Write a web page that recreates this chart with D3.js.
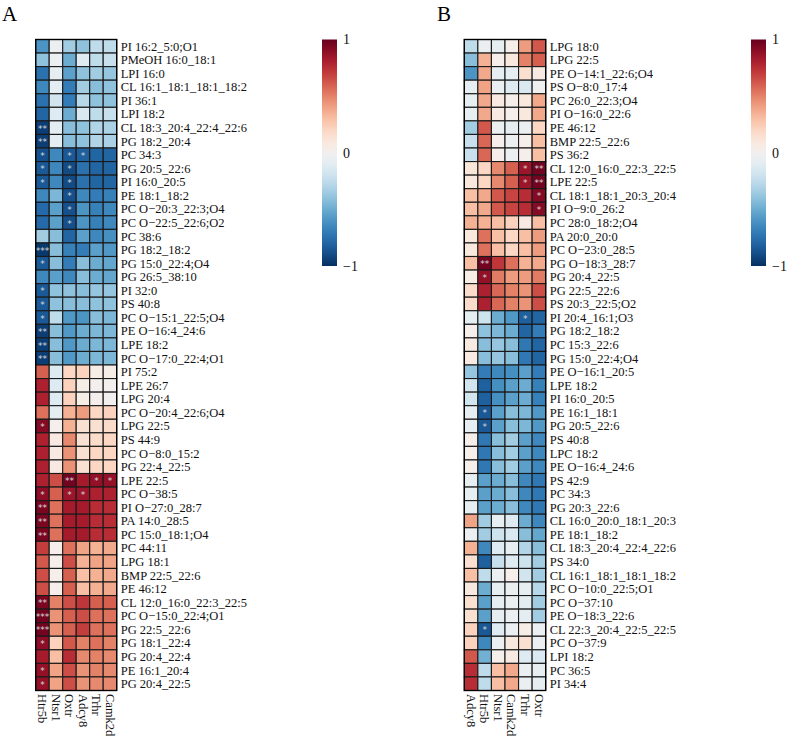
<!DOCTYPE html>
<html>
<head>
<meta charset="utf-8">
<script src="https://cdn.jsdelivr.net/npm/d3@7"></script>
<style>
  body { margin: 0; background: #fff; }
  svg text { font-family: "Liberation Serif", "Times New Roman", "DejaVu Serif", serif; }
</style>
</head>
<body>
<svg id="chart" width="789" height="738"></svg>
<script>
// panel A
var colsA = ["Htr5b", "Ntsr1", "Oxtr", "Adcy8", "Trhr", "Camk2d"];
var rowsA = [
  "PI 16:2_5:0;O1", "PMeOH 16:0_18:1", "LPI 16:0", "CL 16:1_18:1_18:1_18:2", "PI 36:1", "LPI 18:2",
  "CL 18:3_20:4_22:4_22:6", "PG 18:2_20:4", "PC 34:3", "PG 20:5_22:6", "PI 16:0_20:5", "PE 18:1_18:2",
  "PC O−20:3_22:3;O4", "PC O−22:5_22:6;O2", "PC 38:6", "PG 18:2_18:2", "PG 15:0_22:4;O4", "PG 26:5_38:10",
  "PI 32:0", "PS 40:8", "PC O−15:1_22:5;O4", "PE O−16:4_24:6", "LPE 18:2", "PC O−17:0_22:4;O1",
  "PI 75:2", "LPE 26:7", "LPG 20:4", "PC O−20:4_22:6;O4", "LPG 22:5", "PS 44:9",
  "PC O−8:0_15:2", "PG 22:4_22:5", "LPE 22:5", "PC O−38:5", "PI O−27:0_28:7", "PA 14:0_28:5",
  "PC 15:0_18:1;O4", "PC 44:11", "LPG 18:1", "BMP 22:5_22:6", "PE 46:12", "CL 12:0_16:0_22:3_22:5",
  "PC O−15:0_22:4;O1", "PG 22:5_22:6", "PG 18:1_22:4", "PG 20:4_22:4", "PE 16:1_20:4", "PG 20:4_22:5"
];
var valsA = [
  [-0.6, -0.05, -0.35, -0.4, -0.25, -0.25],
  [-0.4, -0.05, -0.5, -0.12, -0.25, -0.22],
  [-0.75, -0.08, -0.55, -0.4, -0.35, -0.38],
  [-0.65, -0.1, -0.7, -0.35, -0.42, -0.4],
  [-0.75, -0.18, -0.7, -0.28, -0.4, -0.4],
  [-0.8, -0.12, -0.5, -0.15, -0.25, -0.22],
  [-0.95, -0.1, -0.42, -0.4, -0.3, -0.32],
  [-0.95, -0.1, -0.42, -0.4, -0.3, -0.32],
  [-0.88, -0.65, -0.85, -0.82, -0.8, -0.8],
  [-0.85, -0.65, -0.9, -0.75, -0.8, -0.8],
  [-0.85, -0.65, -0.9, -0.75, -0.8, -0.8],
  [-0.65, -0.45, -0.88, -0.65, -0.7, -0.68],
  [-0.78, -0.55, -0.88, -0.6, -0.68, -0.65],
  [-0.78, -0.55, -0.88, -0.6, -0.68, -0.65],
  [-0.35, -0.42, -0.8, -0.55, -0.65, -0.62],
  [-0.97, -0.42, -0.68, -0.7, -0.55, -0.58],
  [-0.85, -0.42, -0.7, -0.42, -0.5, -0.52],
  [-0.65, -0.55, -0.65, -0.42, -0.5, -0.52],
  [-0.85, -0.4, -0.4, -0.42, -0.38, -0.38],
  [-0.85, -0.4, -0.42, -0.42, -0.4, -0.4],
  [-0.85, -0.25, -0.58, -0.6, -0.42, -0.45],
  [-0.95, -0.42, -0.58, -0.5, -0.45, -0.45],
  [-0.95, -0.42, -0.58, -0.5, -0.45, -0.45],
  [-0.95, -0.42, -0.58, -0.5, -0.45, -0.45],
  [0.6, -0.12, 0.2, 0.22, 0.05, 0.05],
  [0.8, -0.12, 0.22, 0.05, 0.02, 0.0],
  [0.8, -0.12, 0.22, 0.05, 0.02, 0.0],
  [0.55, -0.1, 0.35, 0.42, 0.2, 0.22],
  [0.92, 0.02, 0.35, 0.15, 0.15, 0.18],
  [0.8, 0.08, 0.48, 0.15, 0.18, 0.2],
  [0.8, 0.08, 0.45, 0.15, 0.2, 0.2],
  [0.8, 0.08, 0.45, 0.15, 0.2, 0.2],
  [0.8, 0.65, 0.97, 0.82, 0.88, 0.88],
  [0.9, 0.6, 0.85, 0.85, 0.8, 0.8],
  [0.95, 0.55, 0.82, 0.82, 0.75, 0.75],
  [0.95, 0.55, 0.82, 0.82, 0.75, 0.75],
  [0.95, 0.55, 0.82, 0.82, 0.75, 0.75],
  [0.7, 0.03, 0.55, 0.4, 0.35, 0.38],
  [0.62, 0.03, 0.65, 0.35, 0.4, 0.4],
  [0.65, 0.03, 0.6, 0.3, 0.35, 0.38],
  [0.65, 0.03, 0.6, 0.3, 0.35, 0.38],
  [0.95, 0.5, 0.65, 0.72, 0.6, 0.6],
  [0.97, 0.45, 0.6, 0.65, 0.55, 0.55],
  [0.97, 0.45, 0.6, 0.7, 0.55, 0.55],
  [0.9, 0.22, 0.62, 0.5, 0.55, 0.5],
  [0.82, 0.3, 0.75, 0.48, 0.5, 0.48],
  [0.88, 0.4, 0.65, 0.45, 0.5, 0.48],
  [0.88, 0.4, 0.65, 0.45, 0.48, 0.48]
];
// [row, col, mark]
var starsA = [
  [6, 0, "**"], [7, 0, "**"], [8, 0, "*"], [8, 2, "*"], [8, 3, "*"],
  [9, 0, "*"], [9, 2, "*"], [10, 0, "*"], [10, 2, "*"], [11, 2, "*"], [12, 2, "*"], [13, 2, "*"],
  [15, 0, "***"], [16, 0, "*"], [18, 0, "*"], [19, 0, "*"], [20, 0, "*"],
  [21, 0, "**"], [22, 0, "**"], [23, 0, "**"], [28, 0, "*"],
  [32, 2, "**"], [32, 4, "*"], [32, 5, "*"], [33, 0, "*"], [33, 2, "*"], [33, 3, "*"],
  [34, 0, "**"], [35, 0, "**"], [36, 0, "**"], [41, 0, "**"], [42, 0, "***"], [43, 0, "***"],
  [44, 0, "*"], [46, 0, "*"], [47, 0, "*"]
];

// panel B
var colsB = ["Adcy8", "Htr5b", "Ntsr1", "Camk2d", "Trhr", "Oxtr"];
var rowsB = [
  "LPG 18:0", "LPG 22:5", "PE O−14:1_22:6;O4", "PS O−8:0_17:4", "PC 26:0_22:3;O4", "PI O−16:0_22:6",
  "PE 46:12", "BMP 22:5_22:6", "PS 36:2", "CL 12:0_16:0_22:3_22:5", "LPE 22:5", "CL 18:1_18:1_20:3_20:4",
  "PI O−9:0_26:2", "PC 28:0_18:2;O4", "PA 20:0_20:0", "PC O−23:0_28:5", "PG O−18:3_28:7", "PG 20:4_22:5",
  "PG 22:5_22:6", "PS 20:3_22:5;O2", "PI 20:4_16:1;O3", "PG 18:2_18:2", "PC 15:3_22:6", "PG 15:0_22:4;O4",
  "PE O−16:1_20:5", "LPE 18:2", "PI 16:0_20:5", "PE 16:1_18:1", "PG 20:5_22:6", "PS 40:8",
  "LPC 18:2", "PE O−16:4_24:6", "PS 42:9", "PC 34:3", "PG 20:3_22:6", "CL 16:0_20:0_18:1_20:3",
  "PE 18:1_18:2", "CL 18:3_20:4_22:4_22:6", "PS 34:0", "CL 16:1_18:1_18:1_18:2", "PC O−10:0_22:5;O1", "PC O−37:10",
  "PE O−18:3_22:6", "CL 22:3_20:4_22:5_22:5", "PC O−37:9", "LPI 18:2", "PC 36:5", "PI 34:4"
];
var valsB = [
  [-0.25, -0.05, -0.08, 0.03, 0.42, 0.62],
  [-0.42, 0.35, 0.03, 0.1, 0.5, 0.6],
  [-0.6, 0.38, -0.08, -0.08, 0.15, 0.08],
  [-0.08, 0.4, -0.05, -0.12, -0.15, -0.03],
  [-0.08, 0.38, 0.08, 0.03, 0.1, 0.38],
  [-0.08, 0.38, 0.08, 0.03, 0.1, 0.38],
  [-0.35, 0.62, -0.05, -0.08, -0.05, 0.2],
  [-0.22, 0.58, 0.03, -0.05, 0.03, 0.3],
  [-0.22, 0.58, 0.03, -0.05, 0.03, 0.3],
  [0.12, 0.2, 0.48, 0.6, 0.85, 0.97],
  [0.1, 0.2, 0.48, 0.6, 0.85, 0.97],
  [0.3, 0.38, 0.62, 0.68, 0.75, 0.92],
  [0.3, 0.38, 0.62, 0.68, 0.75, 0.92],
  [0.35, 0.35, 0.3, 0.22, 0.08, 0.3],
  [0.1, 0.55, 0.3, 0.2, 0.3, 0.42],
  [0.1, 0.55, 0.3, 0.2, 0.3, 0.42],
  [0.3, 0.97, 0.72, 0.55, 0.35, 0.38],
  [0.05, 0.88, 0.52, 0.42, 0.42, 0.52],
  [0.18, 0.8, 0.58, 0.5, 0.45, 0.65],
  [0.18, 0.8, 0.58, 0.5, 0.45, 0.65],
  [-0.08, -0.2, -0.5, -0.58, -0.82, -0.8],
  [0.03, -0.4, -0.45, -0.5, -0.8, -0.7],
  [0.08, -0.42, -0.38, -0.42, -0.72, -0.8],
  [0.08, -0.42, -0.38, -0.42, -0.72, -0.8],
  [-0.38, -0.7, -0.65, -0.62, -0.55, -0.7],
  [-0.18, -0.82, -0.62, -0.55, -0.5, -0.68],
  [-0.18, -0.82, -0.62, -0.55, -0.5, -0.68],
  [-0.08, -0.85, -0.55, -0.42, -0.45, -0.58],
  [-0.08, -0.85, -0.55, -0.42, -0.45, -0.58],
  [0.03, -0.72, -0.42, -0.35, -0.55, -0.65],
  [0.03, -0.72, -0.42, -0.35, -0.55, -0.65],
  [0.03, -0.72, -0.42, -0.35, -0.55, -0.65],
  [-0.08, -0.55, -0.5, -0.42, -0.65, -0.72],
  [-0.08, -0.55, -0.5, -0.42, -0.65, -0.72],
  [-0.08, -0.55, -0.5, -0.42, -0.65, -0.72],
  [0.4, -0.35, -0.08, -0.12, -0.5, -0.65],
  [-0.05, -0.35, -0.2, -0.15, -0.42, -0.52],
  [0.35, -0.65, -0.12, -0.08, -0.3, -0.42],
  [0.15, -0.82, -0.22, -0.12, -0.2, -0.35],
  [0.3, -0.25, -0.05, 0.03, -0.18, -0.35],
  [0.1, -0.5, -0.08, -0.05, -0.08, -0.28],
  [0.15, -0.55, -0.08, -0.05, -0.1, -0.35],
  [0.15, -0.55, -0.08, -0.05, -0.1, -0.35],
  [0.22, -0.85, -0.12, -0.05, 0.05, -0.05],
  [0.22, -0.65, -0.05, 0.1, 0.15, -0.05],
  [0.62, -0.48, 0.03, 0.08, -0.12, -0.15],
  [0.75, -0.25, 0.3, 0.38, -0.05, -0.08],
  [0.75, -0.25, 0.3, 0.38, -0.05, -0.08]
];
var starsB = [
  [9, 4, "*"], [9, 5, "**"], [10, 4, "*"], [10, 5, "**"], [11, 5, "*"], [12, 5, "*"],
  [16, 1, "**"], [17, 1, "*"], [20, 4, "*"], [27, 1, "*"], [28, 1, "*"], [43, 1, "*"]
];

var cbTicks = [1, 0, -1];

var serif = "'Liberation Serif', 'Times New Roman', serif";
var svg = d3.select("#chart");
var color = function(v) { return d3.interpolateRdBu((1 - v) / 2); };
var fmt = function(d) { return d < 0 ? "\u2212" + Math.abs(d) : String(d); };

function drawPanel(opt) {
    var g = svg.append("g");
    var x = d3.scaleBand().domain(opt.cols).range([opt.x0, opt.x1]);
    var y = d3.scaleBand().domain(d3.range(opt.rows.length)).range([39.5, 690.5]);

    var cells = [];
    opt.vals.forEach(function(row, i) {
        row.forEach(function(v, j) { cells.push({ r: i, c: opt.cols[j], v: v }); });
    });

    g.selectAll(".cell")
        .data(cells)
        .enter().append("rect")
        .attr("class", "cell")
        .attr("x", function(d) { return x(d.c); })
        .attr("y", function(d) { return y(d.r); })
        .attr("width", x.bandwidth())
        .attr("height", y.bandwidth())
        .attr("fill", function(d) { return color(d.v); })
        .attr("stroke", "#1a1a1a")
        .attr("stroke-width", 1.1);

    g.selectAll(".star")
        .data(opt.stars)
        .enter().append("text")
        .attr("class", "star")
        .attr("x", function(d) { return x(opt.cols[d[1]]) + x.bandwidth() / 2; })
        .attr("y", function(d) { return y(d[0]) + y.bandwidth() / 2 + 4; })
        .attr("text-anchor", "middle")
        .style("font-size", "9px")
        .style("font-family", "DejaVu Sans, sans-serif")
        .attr("fill", "#d8d8d8")
        .text(function(d) { return d[2]; });

    // outer frame
    g.append("rect")
        .attr("x", opt.x0).attr("y", 39.5)
        .attr("width", opt.x1 - opt.x0).attr("height", 651)
        .attr("fill", "none").attr("stroke", "#000").attr("stroke-width", 1.3);

    // row labels
    g.selectAll(".rlab")
        .data(opt.rows)
        .enter().append("text")
        .attr("class", "rlab")
        .attr("x", opt.x1 + 4)
        .attr("y", function(d, i) { return y(i) + y.bandwidth() / 2; })
        .attr("dy", "0.35em")
        .style("font-family", serif)
        .style("font-size", "12.5px")
        .attr("fill", "#111")
        .text(function(d) { return d; });

    // column labels, rotated
    g.selectAll(".clab")
        .data(opt.cols)
        .enter().append("text")
        .attr("class", "clab")
        .attr("transform", function(d) {
            return "translate(" + (x(d) + x.bandwidth() / 2) + ",694) rotate(90)";
        })
        .attr("dy", "0.35em")
        .style("font-family", serif)
        .style("font-size", "12.5px")
        .attr("fill", "#111")
        .text(function(d) { return d; });

    // panel letter
    g.append("text")
        .attr("x", opt.lx).attr("y", 21)
        .style("font-family", serif)
        .style("font-size", "21px")
        .text(opt.letter);

    // colorbar
    var gradId = "grad" + opt.letter;
    var grad = svg.append("defs").append("linearGradient")
        .attr("id", gradId)
        .attr("x1", "0%").attr("y1", "100%").attr("x2", "0%").attr("y2", "0%");
    d3.range(0, 1.0001, 0.05).forEach(function(t) {
        grad.append("stop")
            .attr("offset", (t * 100) + "%")
            .attr("stop-color", color(t * 2 - 1));
    });
    var cy = d3.scaleLinear().domain([-1, 1]).range([266, 39.5]);
    g.append("rect")
        .attr("x", opt.cbx).attr("y", cy(1))
        .attr("width", 15).attr("height", cy(-1) - cy(1))
        .attr("fill", "url(#" + gradId + ")");
    var ax = g.append("g")
        .attr("transform", "translate(" + (opt.cbx + 15) + ",0)")
        .call(d3.axisRight(cy).tickValues(cbTicks).tickSize(0).tickPadding(6).tickFormat(fmt));
    ax.select(".domain").remove();
    ax.selectAll("text")
        .style("font-family", serif)
        .style("font-size", "14px")
        .attr("fill", "#111");
}

drawPanel({ letter: "A", lx: 2, x0: 35.7, x1: 116.7, cbx: 322,
            cols: colsA, rows: rowsA, vals: valsA, stars: starsA });
drawPanel({ letter: "B", lx: 437, x0: 464.3, x1: 545.7, cbx: 751,
            cols: colsB, rows: rowsB, vals: valsB, stars: starsB });
</script>
</body>
</html>
